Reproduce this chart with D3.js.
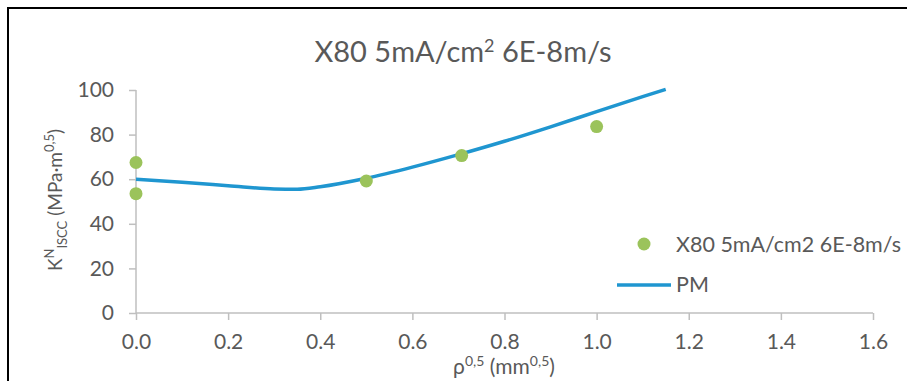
<!DOCTYPE html>
<html>
<head>
<meta charset="utf-8">
<script src="https://cdn.jsdelivr.net/npm/d3@7"></script>
<style>
  body { margin: 0; background: #fff; }
  svg { display: block; }
  text { font-family: Lato, 'Open Sans', sans-serif; fill: #595959; }
</style>
</head>
<body>
<svg id="chart" width="907" height="381"></svg>
<script>
// measured points
const pointX = [0, 0, 0.5, 0.707, 1.0]
const pointY = [67.5, 53.5, 59.2, 70.6, 83.6]
// PM model curve
const pmX = [0, 0.1, 0.2, 0.3, 0.35, 0.4, 0.5, 0.6, 0.7, 0.8, 0.9, 1.0, 1.1, 1.15]
const pmY = [60, 58.6, 57.1, 55.6, 55.5, 56.6, 60.4, 65.4, 71, 77, 83.5, 90.3, 97, 100.3]
const xTicks = [0, 0.2, 0.4, 0.6, 0.8, 1.0, 1.2, 1.4, 1.6]
const yTicks = [0, 20, 40, 60, 80, 100]
const seriesNames = ['X80 5mA/cm2 6E-8m/s', 'PM']

const GREEN = '#9bc35b'
const BLUE = '#1f96d0'
const AXIS = '#bfbfbf'
const FONT = "Lato, 'Open Sans', sans-serif"
const M = { left: 136, right: 873, top: 90, bottom: 313 }

const svg = d3.select('#chart')

// outer frame (only left and top edges are visible)
svg.append('path')
  .attr('d', 'M8,381 L8,8 L907,8')
  .attr('fill', 'none')
  .attr('stroke', '#000')
  .attr('stroke-width', 2)

let xScale = d3.scaleLinear().domain([0, 1.6]).range([M.left, M.right])
let yScale = d3.scaleLinear().domain([0, 100]).range([M.bottom, M.top])

// title
let title = svg.append('text')
  .attr('x', 463).attr('y', 62)
  .attr('text-anchor', 'middle')
  .style('font-size', '29px')
title.append('tspan').text('X80 5mA/cm')
title.append('tspan').text('2').attr('dy', -10).style('font-size', '18px')
title.append('tspan').text(' 6E-8m/s').attr('dy', 10)

// axes
let xg = svg.append('g').attr('transform', `translate(0,${M.bottom})`)
xg.call(d3.axisBottom(xScale).tickValues(xTicks).tickFormat(d3.format('.1f')).tickSize(7).tickPadding(14))
let yg = svg.append('g').attr('transform', `translate(${M.left},0)`)
yg.call(d3.axisLeft(yScale).tickValues(yTicks).tickSize(7).tickPadding(15))
;[xg, yg].forEach(g => {
  g.selectAll('.domain').attr('stroke', AXIS).attr('stroke-width', 1.5)
  g.selectAll('.tick line').attr('stroke', AXIS).attr('stroke-width', 1.5)
  g.selectAll('.tick text').style('font-size', '21px').attr('fill', '#595959')
    .style('font-family', FONT)
})
yg.select('.domain').attr('d', `M-0,${M.bottom}V${M.top}`)
xg.select('.domain').attr('d', `M${M.left},0H${M.right}`)

// axis titles
let xl = svg.append('text')
  .attr('x', 504).attr('y', 374)
  .attr('text-anchor', 'middle')
  .style('font-size', '21px')
xl.append('tspan').text('ρ')
xl.append('tspan').text('0,5').attr('dy', -8).style('font-size', '14px')
xl.append('tspan').text(' (mm').attr('dy', 8)
xl.append('tspan').text('0,5').attr('dy', -8).style('font-size', '14px')
xl.append('tspan').text(')').attr('dy', 8)

let yl = svg.append('text')
  .style('font-size', '19px')
yl.append('tspan').text('K')
yl.append('tspan').text('N').attr('dy', -8).style('font-size', '13px')
yl.append('tspan').text('ISCC').attr('dy', 13).style('font-size', '13px')
yl.append('tspan').text(' (MPa·m').attr('dy', -5)
yl.append('tspan').text('0,5').attr('dy', -8).style('font-size', '13px')
yl.append('tspan').text(')').attr('dy', 8)
// centre the rotated label on y = 200
let yw = yl.node().getBBox().width
yl.attr('transform', `translate(62,${200 + yw / 2}) rotate(-90)`)

// PM line
let line = d3.line()
  .x((d) => xScale(d[0]))
  .y((d) => yScale(d[1]))
  .curve(d3.curveMonotoneX)
svg.append('path')
  .attr('d', line(pmX.map((x, i) => [x, pmY[i]])))
  .attr('fill', 'none')
  .attr('stroke', BLUE)
  .attr('stroke-width', 3.5)

// points
svg.append('g').selectAll('circle')
  .data(pointX.map((x, i) => [x, pointY[i]]))
  .join('circle')
  .attr('cx', (d) => xScale(d[0]))
  .attr('cy', (d) => yScale(d[1]))
  .attr('r', 6.5)
  .attr('fill', GREEN)

// legend
let lg = svg.append('g')
lg.append('circle').attr('cx', 644).attr('cy', 244).attr('r', 6.5).attr('fill', GREEN)
lg.append('text').attr('x', 676).attr('y', 252).style('font-size', '21.5px').text(seriesNames[0])
lg.append('line').attr('x1', 617).attr('x2', 671).attr('y1', 285).attr('y2', 285)
  .attr('stroke', BLUE).attr('stroke-width', 3.5)
lg.append('text').attr('x', 676).attr('y', 292).style('font-size', '21.5px').text(seriesNames[1])
</script>
</body>
</html>
